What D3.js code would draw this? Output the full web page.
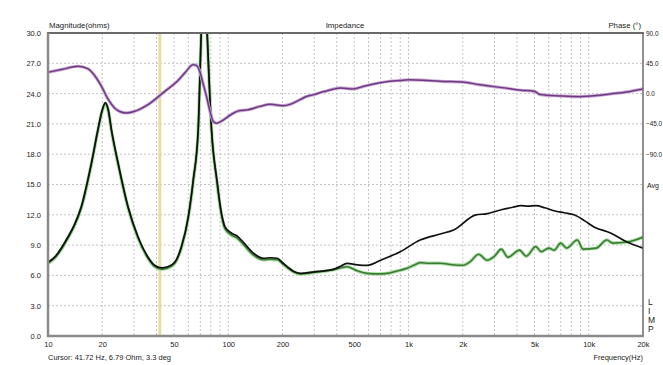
<!DOCTYPE html>
<html>
<head>
<meta charset="utf-8">
<script src="https://cdn.jsdelivr.net/npm/d3@7"></script>
<style>
  html, body { margin: 0; padding: 0; background: #ffffff; }
  svg { display: block; }
  text { font-family: "Liberation Sans", Arial, sans-serif; fill: #222; }
</style>
</head>
<body>
<svg id="chart" width="663" height="365"></svg>
<script>
// ---------- DATA ----------
const magTicks = [0, 3, 6, 9, 12, 15, 18, 21, 24, 27, 30];
const phaseTicks = [90, 45, 0, -45, -90];
const freqTicks = [10, 20, 50, 100, 200, 500, 1000, 2000, 5000, 10000, 20000];
const freqTickLabels = ["10", "20", "50", "100", "200", "500", "1k", "2k", "5k", "10k", "20k"];

const blackFreq = [10, 11, 12.9, 14, 15.3, 17.4, 18.9, 20, 20.8, 21.6, 22.5, 24.5, 27.8, 31.6, 35.9, 39, 42.6, 46, 50.5, 55, 60, 64, 68.1, 70.8, 73.5, 76.4, 80.8, 86.6, 91, 96, 104, 112, 121, 138, 157, 172, 187, 199, 215, 230, 250, 300, 383, 420, 455, 520, 589, 700, 900, 1160, 1500, 1780, 2370, 2700, 3270, 3800, 4200, 4600, 5080, 5700, 6430, 7300, 8300, 9500, 10700, 13200, 16300, 20000];
const blackOhm  = [7.3, 7.9, 9.8, 11.0, 12.8, 17.1, 20.4, 22.4, 23.1, 22.4, 20.4, 17.1, 12.8, 9.8, 7.8, 7.0, 6.75, 6.85, 7.3, 8.85, 11.8, 15.5, 20.4, 30, 38, 30, 20.4, 15.4, 12.5, 10.8, 10.2, 9.9, 9.3, 8.2, 7.7, 7.75, 7.7, 7.3, 6.8, 6.4, 6.2, 6.35, 6.6, 6.9, 7.2, 7.05, 7.0, 7.5, 8.35, 9.5, 10.1, 10.5, 12.0, 12.1, 12.5, 12.75, 12.9, 12.85, 12.9, 12.7, 12.4, 12.2, 12.0, 11.4, 10.8, 10.2, 9.3, 8.7];

const greenFreq = [10, 11, 12.9, 14, 15.3, 17.4, 18.9, 20, 20.8, 21.6, 22.5, 24.5, 27.8, 31.6, 35.9, 39, 42.6, 46, 50.5, 55, 60, 64, 68.1, 70.8, 73.5, 76.4, 80.8, 86.6, 91, 96, 104, 112, 121, 138, 157, 172, 187, 199, 215, 230, 250, 300, 383, 420, 455, 520, 589, 680, 760, 850, 980, 1100, 1160, 1300, 1500, 1750, 2000, 2200, 2450, 2730, 3000, 3270, 3560, 4130, 4500, 5080, 5450, 6000, 6430, 6990, 7540, 8640, 9300, 11000, 12600, 13600, 16300, 20000];
const greenOhm  = [7.2, 7.8, 9.7, 10.9, 12.7, 17.0, 20.3, 22.3, 23.0, 22.3, 20.3, 17.0, 12.7, 9.7, 7.7, 6.9, 6.62, 6.72, 7.2, 8.75, 11.7, 15.4, 20.3, 30, 38, 30, 20.3, 15.2, 12.3, 10.6, 10.0, 9.7, 9.1, 8.0, 7.55, 7.6, 7.55, 7.2, 6.7, 6.35, 6.15, 6.3, 6.55, 6.75, 6.85, 6.45, 6.2, 6.15, 6.2, 6.4, 6.7, 7.1, 7.26, 7.2, 7.2, 7.05, 7.0, 7.36, 8.1, 7.5, 7.9, 8.6, 7.8, 8.5, 7.9, 8.85, 8.35, 8.7, 8.5, 9.2, 8.7, 9.5, 8.6, 8.7, 9.5, 9.2, 9.3, 9.8];

const phaseFreq = [10, 12, 14.7, 16.7, 18, 19.8, 21.5, 23.4, 25, 27.2, 30, 35.9, 44.5, 52, 58, 63.8, 66.5, 69.5, 72.5, 75.7, 79, 82.5, 86, 90, 104, 113, 129, 150, 171, 202, 220, 250, 274, 299, 340, 420, 494, 563, 660, 787, 900, 1000, 1200, 1500, 1970, 2500, 3380, 4200, 4990, 5380, 7000, 8890, 11000, 13200, 16300, 20000];
const phaseDeg  = [31.7, 36, 40.6, 36.7, 28, 10.8, -8, -21.3, -26.5, -28.7, -26.5, -16.3, 3.4, 18, 32, 43, 42, 33, 15, -4, -25, -41, -44, -42, -31, -26, -24, -19, -16, -18, -16, -9, -4, -1.5, 3, 8.5, 7, 10.8, 15, 18.3, 19.5, 20.5, 20, 18.3, 17.4, 13, 8.5, 5, 3.4, -1.5, -3.5, -4.5, -3, -0.5, 2.5, 7];

const cursorFreq = 41.72;
const cursorText = "Cursor: 41.72 Hz, 6.79 Ohm, 3.3 deg";

// ---------- LAYOUT ----------
const svg = d3.select("#chart");
const L = 48, R = 643, T = 33, B = 336;

const x = d3.scaleLog().domain([10, 20000]).range([L, R]);
const y = d3.scaleLinear().domain([0, 30]).range([B, T]);
const yp = d3.scaleLinear().domain([-360, 90]).range([B, T]);

svg.append("defs").append("clipPath").attr("id", "clip")
  .append("rect").attr("x", L).attr("y", T).attr("width", R - L).attr("height", B - T);

// grid
const gridFreqs = [];
for (let d = 10; d < 20000; d *= 10) {
  for (let m = 1; m <= 9; m++) {
    const f = d * m;
    if (f > 10 && f < 20000) gridFreqs.push(f);
  }
}
const grid = svg.append("g");
grid.selectAll("line.v").data(gridFreqs).join("line")
  .attr("x1", d => x(d)).attr("x2", d => x(d))
  .attr("y1", T).attr("y2", B)
  .attr("stroke", "#c4c4c4").attr("stroke-width", 1)
  .attr("stroke-dasharray", "2,2");
grid.selectAll("line.h").data(magTicks.filter(v => v > 0 && v < 30)).join("line")
  .attr("x1", L).attr("x2", R)
  .attr("y1", d => y(d)).attr("y2", d => y(d))
  .attr("stroke", "#c4c4c4").attr("stroke-width", 1)
  .attr("stroke-dasharray", "2,2");

// cursor band
svg.append("line")
  .attr("x1", x(cursorFreq)).attr("x2", x(cursorFreq))
  .attr("y1", T).attr("y2", B)
  .attr("stroke", "#e4dea4").attr("stroke-width", 3);

// curves
const plot = svg.append("g").attr("clip-path", "url(#clip)");
function lineFor(fs, vs, ys) {
  const pts = fs.map((f, i) => [x(f), ys(vs[i])]);
  return d3.line().curve(d3.curveMonotoneX)(pts);
}
const greenPath = lineFor(greenFreq, greenOhm, y);
const blackPath = lineFor(blackFreq, blackOhm, y);
const phasePath = lineFor(phaseFreq, phaseDeg, yp);

plot.append("path").attr("d", greenPath).attr("fill", "none")
  .attr("stroke", "#a9dca3").attr("stroke-width", 3.5);
plot.append("path").attr("d", greenPath).attr("fill", "none")
  .attr("stroke", "#3b7d35").attr("stroke-width", 1.6);
plot.append("path").attr("d", blackPath).attr("fill", "none")
  .attr("stroke", "#111").attr("stroke-width", 1.7);
plot.append("path").attr("d", phasePath).attr("fill", "none")
  .attr("stroke", "#c9a6d6").attr("stroke-width", 3.2);
plot.append("path").attr("d", phasePath).attr("fill", "none")
  .attr("stroke", "#6e3a80").attr("stroke-width", 1.5);

// frame
svg.append("line").attr("x1", L - 1).attr("x2", R + 1).attr("y1", T).attr("y2", T)
  .attr("stroke", "#6a6a6a").attr("stroke-width", 2);
svg.append("line").attr("x1", R).attr("x2", R).attr("y1", T).attr("y2", B)
  .attr("stroke", "#6a6a6a").attr("stroke-width", 1.5);
svg.append("line").attr("x1", L).attr("x2", L).attr("y1", T).attr("y2", B + 1)
  .attr("stroke", "#8a8a8a").attr("stroke-width", 2.5);
svg.append("line").attr("x1", L - 1).attr("x2", R + 1).attr("y1", B).attr("y2", B)
  .attr("stroke", "#8a8a8a").attr("stroke-width", 2.5);

// left axis labels
const leftAxis = d3.axisLeft(y).tickValues(magTicks).tickFormat(d3.format(".1f")).tickSize(0).tickPadding(7);
const gl = svg.append("g").attr("transform", `translate(${L},0)`).call(leftAxis);
gl.select(".domain").remove();
gl.selectAll("text").style("font-family", "Liberation Sans, Arial, sans-serif").style("font-size", "7.5px").attr("fill", "#222");

// right phase labels
const rightAxis = d3.axisRight(yp).tickValues(phaseTicks).tickFormat(d3.format(".1f")).tickSize(0).tickPadding(3);
const gr = svg.append("g").attr("transform", `translate(${R},0)`).call(rightAxis);
gr.select(".domain").remove();
gr.selectAll("text").style("font-family", "Liberation Sans, Arial, sans-serif").style("font-size", "6.4px").attr("fill", "#222");
svg.append("text").attr("x", R + 4).attr("y", y(15) + 3).style("font-size", "7px").text("Avg");

// bottom axis
const bottomAxis = d3.axisBottom(x).tickValues(freqTicks)
  .tickFormat((d, i) => freqTickLabels[i]).tickSize(0).tickPadding(6);
const gb = svg.append("g").attr("transform", `translate(0,${B})`).call(bottomAxis);
gb.select(".domain").remove();
gb.selectAll("text").style("font-family", "Liberation Sans, Arial, sans-serif").style("font-size", "7.5px").attr("fill", "#222");

// titles
svg.append("text").attr("x", L + 1).attr("y", 28).style("font-size", "7.8px").text("Magnitude(ohms)");
svg.append("text").attr("x", 345).attr("y", 28).attr("text-anchor", "middle").style("font-size", "7.8px").text("Impedance");
svg.append("text").attr("x", R - 2).attr("y", 28).attr("text-anchor", "end").style("font-size", "7.8px").text("Phase (°)");
svg.append("text").attr("x", L).attr("y", 360).style("font-size", "7.5px").text(cursorText);
svg.append("text").attr("x", R).attr("y", 360).attr("text-anchor", "end").style("font-size", "7.5px").text("Frequency(Hz)");

// LIMP
const limp = ["L", "I", "M", "P"];
svg.selectAll("text.limp").data(limp).join("text")
  .attr("class", "limp")
  .attr("x", R + 5).attr("y", (d, i) => 305 + i * 9)
  .style("font-size", "8.5px").text(d => d);
</script>
</body>
</html>
